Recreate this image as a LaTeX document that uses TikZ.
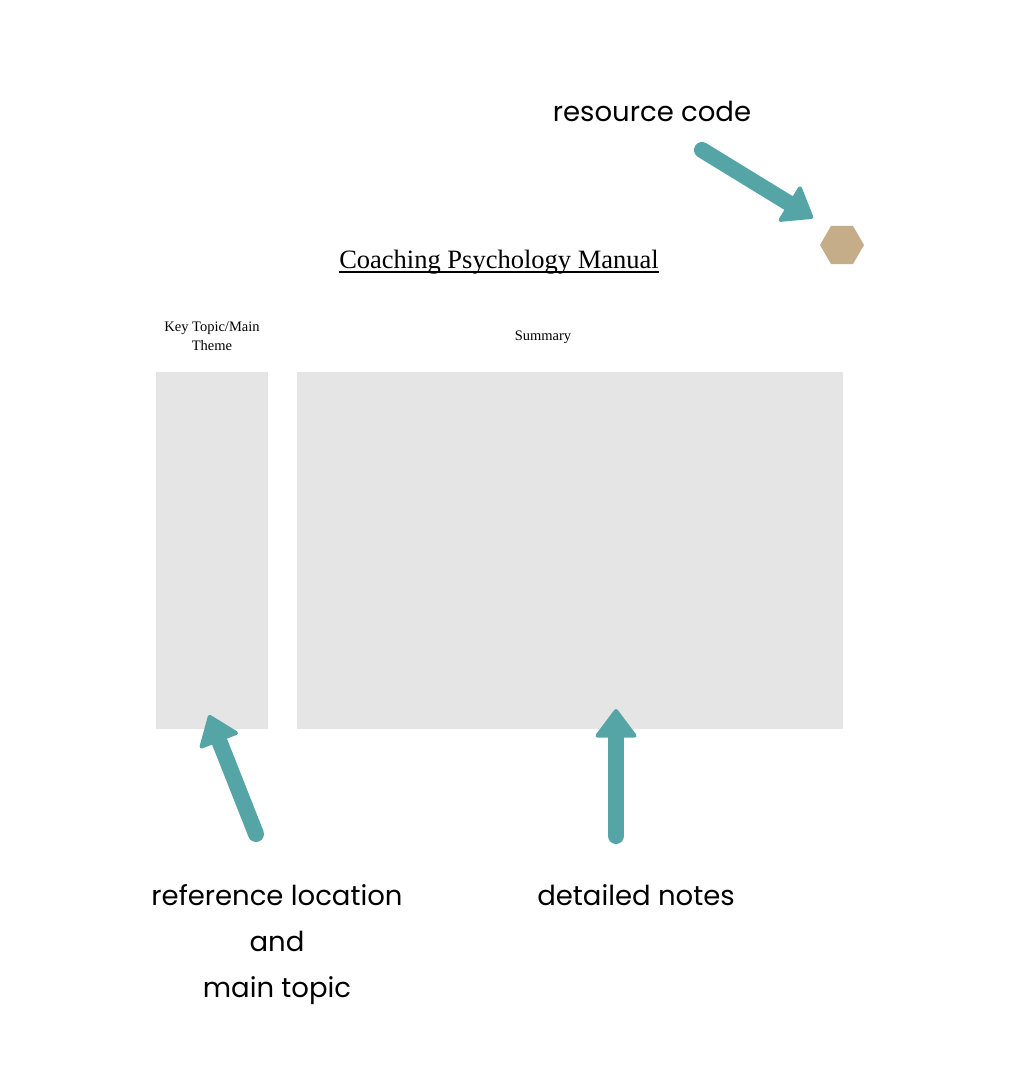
\documentclass[tikz,border=0pt]{standalone}
\usepackage{fontspec}
\setmainfont{Liberation Serif}
\newfontfamily\labfont{Poppins}
\usetikzlibrary{arrows.meta,shapes.geometric}
\definecolor{teal1}{HTML}{56A5A6}
\definecolor{boxgray}{HTML}{E5E5E5}
\definecolor{hexcol}{HTML}{C6AD89}
\tikzset{
  panel/.style={fill=boxgray, draw=none, inner sep=0pt},
  bigarrow/.style={draw=teal1, line width=16pt, line cap=round,
    -{Triangle[length=30pt,width=44pt,line width=4pt,round]}},
  biglabel/.style={font=\labfont\fontsize{27.5}{46}\selectfont, align=center, inner sep=0pt, text=black},
  smalllabel/.style={font=\fontsize{14.5}{19}\selectfont, align=center, inner sep=0pt}
}
\begin{document}
\begin{tikzpicture}[x=1pt,y=-1pt]
\useasboundingbox[fill=white] (0,0) rectangle (1015,1086);
% panels
\node[panel, minimum width=112pt, minimum height=357pt] (keybox) at (212,550.5) {};
\node[panel, minimum width=546pt, minimum height=357pt] (sumbox) at (570,550.5) {};
% hexagon
\node[regular polygon, regular polygon sides=6, minimum size=44pt, inner sep=0pt, fill=hexcol, draw=none] (hex) at (842,245) {};
% title
\node[font=\fontsize{26.5}{30}\selectfont, inner sep=0pt, anchor=base] (title) at (499,268) {Coaching Psychology Manual};
\draw[line width=1.3pt] ([yshift=-4pt]title.base west) -- ([yshift=-4pt]title.base east);
% column headings
\node[smalllabel] (keyhead) at (212,336) {Key Topic/Main\\Theme};
\node[smalllabel] (sumhead) at (543,337) {Summary};
% labels
\node[biglabel] (rescode) at (652,111) {resource code};
\node[biglabel, anchor=north] (refloc) at (277,884) {reference location\\and\\main topic};
\node[biglabel, anchor=north] (detnotes) at (636,884) {detailed notes};
% arrow end coordinates
\coordinate (a1s) at (702,150);
\coordinate (a1e) at (813,218);
\coordinate (a2s) at (256,834);
\coordinate (a2e) at (209,715);
\coordinate (a3s) at (616,836);
\coordinate (a3e) at (616,709);
\draw[bigarrow] (a1s) -- (a1e);
\draw[bigarrow] (a2s) -- (a2e);
\draw[bigarrow] (a3s) -- (a3e);
\end{tikzpicture}
\end{document}
